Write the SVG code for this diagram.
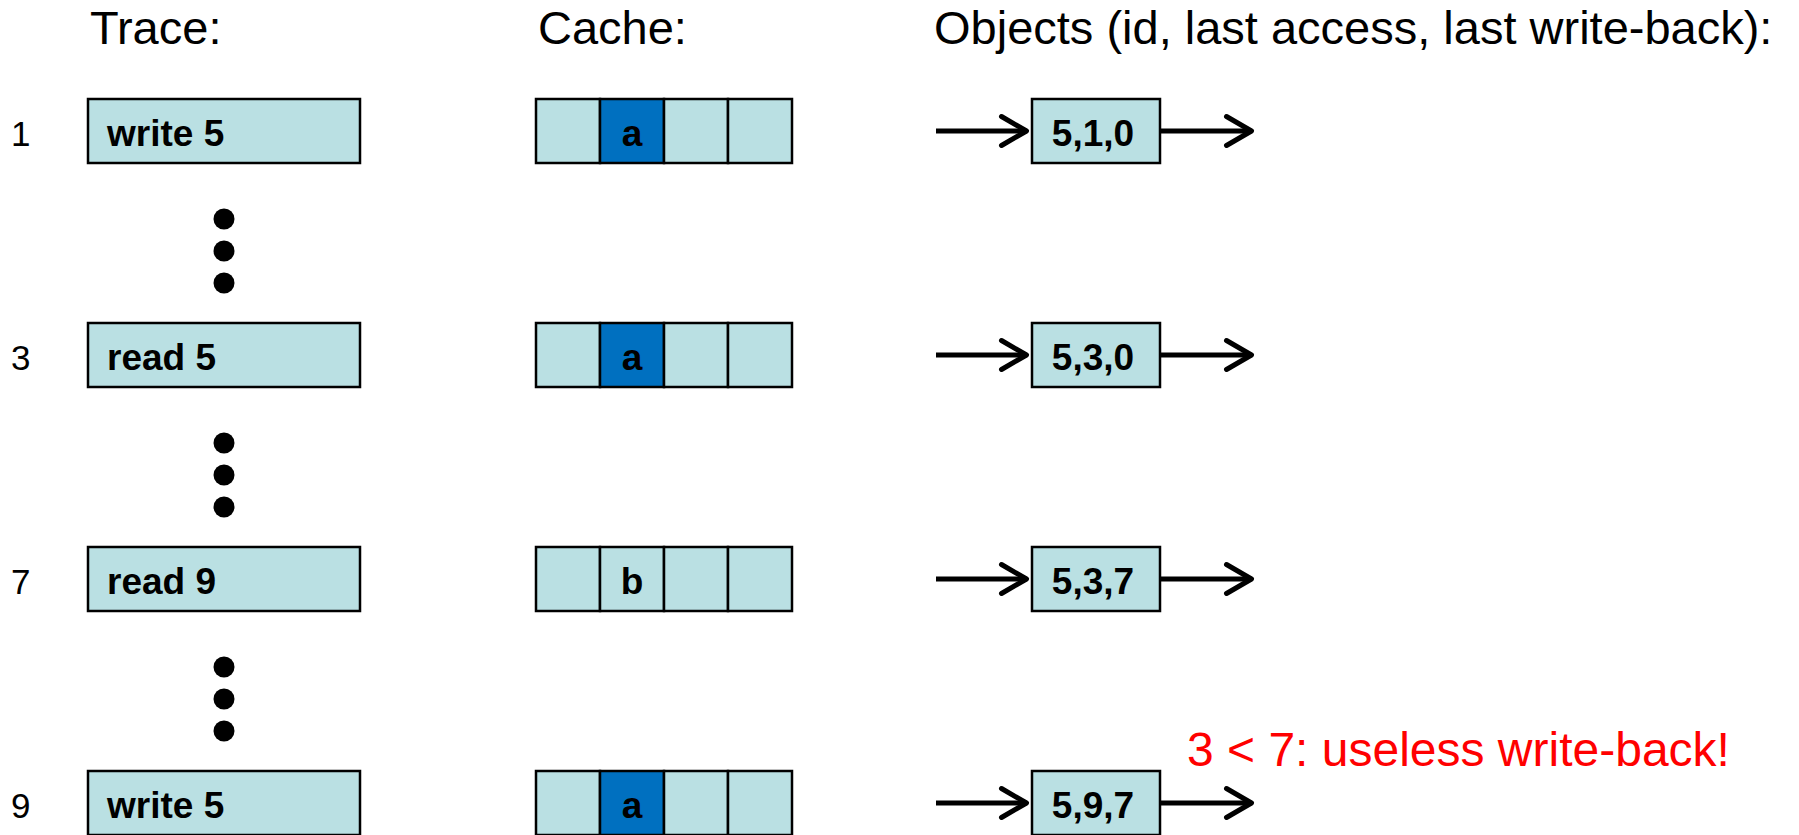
<svg xmlns="http://www.w3.org/2000/svg" width="1799" height="835" viewBox="0 0 1799 835">
  <style>
    .hdr { font-family: "Liberation Sans", Arial, sans-serif; font-size: 47px; fill: #000; }
    .num { font-family: "Liberation Sans", Arial, sans-serif; font-size: 35px; fill: #000; }
    .lbl { font-family: "Liberation Sans", Arial, sans-serif; font-size: 37px; font-weight: bold; fill: #000; }
    .mid { text-anchor: middle; }
    .box { fill: #BAE0E3; stroke: #000; stroke-width: 2.5; }
    .hot { fill: #0070C0; stroke: #000; stroke-width: 2.5; }
    .link { stroke: #000; stroke-width: 5; fill: none; marker-end: url(#chev); }
    .note { font-family: "Liberation Sans", Arial, sans-serif; font-size: 48px; fill: #FF0000; }
  </style>
  <defs>
    <marker id="chev" markerUnits="userSpaceOnUse" markerWidth="40" markerHeight="40" refX="0" refY="0" viewBox="-30 -20 40 40" orient="auto" overflow="visible">
      <path d="M -25 -14.5 L 0 0 L -25 14.5" fill="none" stroke="#000" stroke-width="5" stroke-linecap="round" stroke-linejoin="round"/>
    </marker>
  </defs>
  <rect width="1799" height="835" fill="#fff"/>

  <!-- column headings -->
  <g id="headings">
    <text class="hdr" x="90" y="44">Trace:</text>
    <text class="hdr" x="538" y="44">Cache:</text>
    <text class="hdr" x="934" y="44">Objects (id, last access, last write-back):</text>
  </g>

  <!-- step 1 -->
  <g id="step1">
    <text class="num" x="11" y="146">1</text>
    <rect class="box" x="88" y="99" width="272" height="64"/>
    <text class="lbl" x="107" y="145.5">write 5</text>
  </g>
  <g id="cache1">
    <rect class="box" x="536" y="99" width="64" height="64"/>
    <rect class="hot" x="600" y="99" width="64" height="64"/>
    <rect class="box" x="664" y="99" width="64" height="64"/>
    <rect class="box" x="728" y="99" width="64" height="64"/>
    <text class="lbl mid" x="632" y="145.5">a</text>
  </g>
  <g id="obj1">
    <rect class="box" x="1032" y="99" width="128" height="64"/>
    <text class="lbl mid" x="1093" y="145.5">5,1,0</text>
  </g>

  <!-- step 3 -->
  <g id="step3">
    <text class="num" x="11" y="370">3</text>
    <rect class="box" x="88" y="323" width="272" height="64"/>
    <text class="lbl" x="107" y="369.5">read 5</text>
  </g>
  <g id="cache3">
    <rect class="box" x="536" y="323" width="64" height="64"/>
    <rect class="hot" x="600" y="323" width="64" height="64"/>
    <rect class="box" x="664" y="323" width="64" height="64"/>
    <rect class="box" x="728" y="323" width="64" height="64"/>
    <text class="lbl mid" x="632" y="369.5">a</text>
  </g>
  <g id="obj3">
    <rect class="box" x="1032" y="323" width="128" height="64"/>
    <text class="lbl mid" x="1093" y="369.5">5,3,0</text>
  </g>

  <!-- step 7 -->
  <g id="step7">
    <text class="num" x="11" y="594">7</text>
    <rect class="box" x="88" y="547" width="272" height="64"/>
    <text class="lbl" x="107" y="593.5">read 9</text>
  </g>
  <g id="cache7">
    <rect class="box" x="536" y="547" width="64" height="64"/>
    <rect class="box" x="600" y="547" width="64" height="64"/>
    <rect class="box" x="664" y="547" width="64" height="64"/>
    <rect class="box" x="728" y="547" width="64" height="64"/>
    <text class="lbl mid" x="632" y="593.5">b</text>
  </g>
  <g id="obj7">
    <rect class="box" x="1032" y="547" width="128" height="64"/>
    <text class="lbl mid" x="1093" y="593.5">5,3,7</text>
  </g>

  <!-- step 9 -->
  <g id="step9">
    <text class="num" x="11" y="818">9</text>
    <rect class="box" x="88" y="771" width="272" height="64"/>
    <text class="lbl" x="107" y="817.5">write 5</text>
  </g>
  <g id="cache9">
    <rect class="box" x="536" y="771" width="64" height="64"/>
    <rect class="hot" x="600" y="771" width="64" height="64"/>
    <rect class="box" x="664" y="771" width="64" height="64"/>
    <rect class="box" x="728" y="771" width="64" height="64"/>
    <text class="lbl mid" x="632" y="817.5">a</text>
  </g>
  <g id="obj9">
    <rect class="box" x="1032" y="771" width="128" height="64"/>
    <text class="lbl mid" x="1093" y="817.5">5,9,7</text>
  </g>

  <!-- elided steps -->
  <g id="ellipsis" fill="#000">
    <circle cx="224" cy="219" r="10.5"/>
    <circle cx="224" cy="251" r="10.5"/>
    <circle cx="224" cy="283" r="10.5"/>
    <circle cx="224" cy="443" r="10.5"/>
    <circle cx="224" cy="475" r="10.5"/>
    <circle cx="224" cy="507" r="10.5"/>
    <circle cx="224" cy="667" r="10.5"/>
    <circle cx="224" cy="699" r="10.5"/>
    <circle cx="224" cy="731" r="10.5"/>
  </g>

  <!-- object list links -->
  <g id="connectors">
    <line class="link" x1="936" y1="131" x2="1026.5" y2="131"/>
    <line class="link" x1="1160" y1="131" x2="1251.5" y2="131"/>
    <line class="link" x1="936" y1="355" x2="1026.5" y2="355"/>
    <line class="link" x1="1160" y1="355" x2="1251.5" y2="355"/>
    <line class="link" x1="936" y1="579" x2="1026.5" y2="579"/>
    <line class="link" x1="1160" y1="579" x2="1251.5" y2="579"/>
    <line class="link" x1="936" y1="803" x2="1026.5" y2="803"/>
    <line class="link" x1="1160" y1="803" x2="1251.5" y2="803"/>
  </g>

  <g id="remark">
    <text class="note" x="1187" y="766">3 &lt; 7: useless write-back!</text>
  </g>
</svg>
